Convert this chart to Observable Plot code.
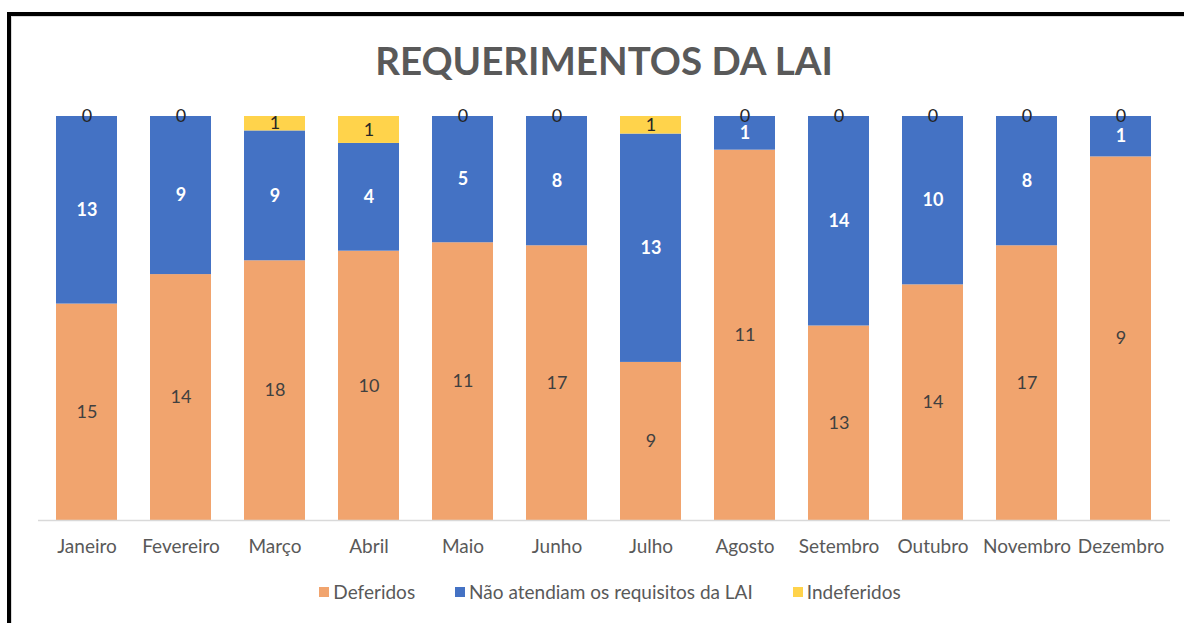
<!DOCTYPE html>
<html><head><meta charset="utf-8">
<script src="https://cdn.jsdelivr.net/npm/d3@7"></script>
<script src="https://cdn.jsdelivr.net/npm/@observablehq/plot@0.6"></script>
<style>
html,body{margin:0;padding:0;background:#fff;overflow:hidden;width:1184px;height:623px;}
body{font-family:Lato,"Open Sans",sans-serif;position:relative;}
#frame{position:absolute;left:7px;top:12px;width:1200px;height:640px;border-left:4px solid #000;border-top:4px solid #000;box-sizing:border-box;}
#frame2{position:absolute;left:11px;top:16px;width:1200px;height:640px;border-left:1px solid #d9d9d9;border-top:1px solid #d9d9d9;box-sizing:border-box;}
#title{position:absolute;left:38px;width:1132px;top:37px;text-align:center;font-weight:700;font-size:38.5px;color:#595959;line-height:46px;white-space:nowrap;}
#chart{position:absolute;left:0;top:90px;}
#legend{position:absolute;left:44px;width:1132px;top:581px;display:flex;justify-content:center;align-items:center;font-size:19px;line-height:22px;color:#595959;white-space:nowrap;}
.item{display:flex;align-items:center;margin:0 20px;}
.sw{width:10px;height:10px;margin-right:4px;display:inline-block;}
</style></head>
<body>
<div id="frame"></div><div id="frame2"></div>
<div id="title"></div>
<div id="chart"></div>
<div id="legend"></div>
<script>
const titleText = "REQUERIMENTOS DA LAI";
const months = ["Janeiro","Fevereiro","Março","Abril","Maio","Junho","Julho","Agosto","Setembro","Outubro","Novembro","Dezembro"];
const seriesNames = ["Deferidos","Não atendiam os requisitos da LAI","Indeferidos"];
const seriesColors = ["#F1A46E","#4472C4","#FFD34B"];
const deferidos   = [15,14,18,10,11,17,9,11,13,14,17,9];
const naoAtendiam = [13,9,9,4,5,8,13,1,14,10,8,1];
const indeferidos = [0,0,1,1,0,0,1,0,0,0,0,0];

document.getElementById("title").textContent = titleText;

const data = months.flatMap((m,i)=>[
  {month:m, series:seriesNames[0], value:deferidos[i]},
  {month:m, series:seriesNames[1], value:naoAtendiam[i]},
  {month:m, series:seriesNames[2], value:indeferidos[i]}
]);
const st = {x:"month", y:"value", z:"series", order:seriesNames, offset:"normalize"};

const chart = Plot.plot({
  width:1184, height:480,
  marginTop:26, marginBottom:50, marginLeft:38, marginRight:14,
  x:{domain:months, paddingInner:0.35, paddingOuter:0.175, label:null, tickSize:0, tickPadding:19},
  y:{axis:null, domain:[0,1]},
  color:{domain:seriesNames, range:seriesColors},
  style:{fontFamily:"Lato, 'Open Sans', sans-serif", fontSize:"19px", color:"#595959", background:"transparent"},
  marks:[
    Plot.barY(data, Plot.stackY({...st, fill:"series"})),
    Plot.ruleY([0], {stroke:"#d9d9d9", strokeWidth:1.5}),
    Plot.text(data, Plot.filter(d=>d.series===seriesNames[0], Plot.stackY({...st, text:"value", fill:"#404040", fontSize:18}))),
    Plot.text(data, Plot.filter(d=>d.series===seriesNames[1], Plot.stackY({...st, text:"value", fill:"#ffffff", fontWeight:"bold", fontSize:18}))),
    Plot.text(data, Plot.filter(d=>d.series===seriesNames[2], Plot.stackY({...st, text:"value", fill:"#262626", fontSize:18})))
  ]
});
document.getElementById("chart").appendChild(chart);

const lg = document.getElementById("legend");
seriesNames.forEach((s,i)=>{
  const it = document.createElement("div"); it.className="item";
  const sw = document.createElement("span"); sw.className="sw"; sw.style.background=seriesColors[i];
  const tx = document.createElement("span"); tx.textContent=s;
  it.appendChild(sw); it.appendChild(tx); lg.appendChild(it);
});
</script>
</body></html>
